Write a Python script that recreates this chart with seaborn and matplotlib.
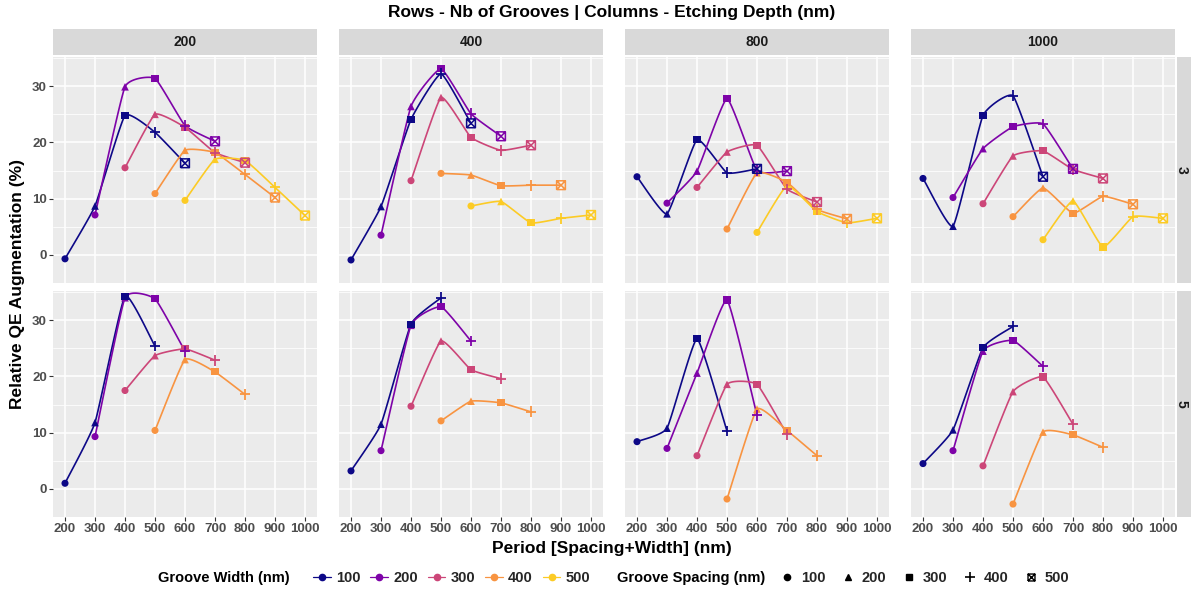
import numpy as np
import pandas as pd
import matplotlib
matplotlib.use("Agg")
import matplotlib.pyplot as plt
import seaborn as sns
from matplotlib.path import Path
from matplotlib.lines import Line2D

# ---------------- data ----------------
depths = [200, 400, 800, 1000]          # columns: etching depth (nm)
grooves = [3, 5]                         # rows: number of grooves
widths = [100, 200, 300, 400, 500]       # groove width (nm)
spacings = [100, 200, 300, 400, 500]     # groove spacing (nm)

# each row of a panel list = one groove width; values ordered by spacing 100..500
g3_d200 = [[-0.7, 8.7, 24.8, 21.8, 16.3],
           [7.1, 29.9, 31.4, 23.0, 20.2],
           [15.5, 25.0, 22.7, 18.2, 16.4],
           [10.9, 18.6, 18.2, 14.3, 10.2],
           [9.7, 17.0, 16.8, 12.0, 7.0]]
g3_d400 = [[-0.9, 8.6, 24.1, 32.2, 23.4],
           [3.5, 26.4, 33.1, 25.1, 21.1],
           [13.2, 28.0, 20.9, 18.6, 19.5],
           [14.5, 14.2, 12.3, 12.4, 12.4],
           [8.7, 9.5, 5.7, 6.5, 7.1]]
g3_d800 = [[13.9, 7.3, 20.5, 14.6, 15.3],
           [9.2, 14.9, 27.8, 15.0, 14.9],
           [12.0, 18.3, 19.5, 11.7, 9.4],
           [4.6, 14.6, 12.9, 8.1, 6.4],
           [4.0, 12.3, 7.7, 5.7, 6.5]]
g3_d1000 = [[13.6, 5.1, 24.8, 28.3, 13.9],
            [10.2, 18.9, 22.8, 23.3, 15.3],
            [9.1, 17.6, 18.5, 15.2, 13.6],
            [6.8, 11.9, 7.4, 10.4, 9.0],
            [2.7, 9.6, 1.4, 6.8, 6.5]]
g5_d200 = [[1.0, 11.8, 34.3, 25.4],
           [9.3, 34.0, 33.8, 24.5],
           [17.5, 23.7, 24.9, 22.9],
           [10.4, 23.0, 20.8, 16.8]]
g5_d400 = [[3.2, 11.5, 29.3, 34.0],
           [6.8, 29.1, 32.4, 26.3],
           [14.7, 26.3, 21.2, 19.6],
           [12.1, 15.6, 15.3, 13.7]]
g5_d800 = [[8.4, 10.8, 26.7, 10.3],
           [7.2, 20.6, 33.6, 13.1],
           [5.9, 18.6, 18.6, 9.7],
           [-1.8, 14.2, 10.4, 5.9]]
g5_d1000 = [[4.5, 10.5, 25.1, 28.9],
            [6.8, 24.5, 26.4, 21.8],
            [4.1, 17.3, 19.9, 11.5],
            [-2.7, 10.1, 9.6, 7.4]]

panels = {(3, 200): g3_d200, (3, 400): g3_d400, (3, 800): g3_d800, (3, 1000): g3_d1000,
          (5, 200): g5_d200, (5, 400): g5_d400, (5, 800): g5_d800, (5, 1000): g5_d1000}

rows = []
for (g, d), mat in panels.items():
    for wi, vals in enumerate(mat):
        for si, v in enumerate(vals):
            rows.append(dict(grooves=g, depth=d, width=widths[wi], spacing=spacings[si],
                             period=widths[wi] + spacings[si], qe=v))
df = pd.DataFrame(rows)

# ---------------- style ----------------
sns.set_theme(style="darkgrid")
FONT = ['Liberation Sans', 'DejaVu Sans']
plt.rcParams['font.family'] = FONT
plt.rcParams['font.weight'] = 'bold'

palette = dict(zip(widths, ["#0D0887", "#7E03A8", "#CC4678", "#F89441", "#FCCB25"]))

sqx = Path([(-1, -1), (1, -1), (1, 1), (-1, 1), (-1, -1), (-1, -1), (1, 1), (-1, 1), (1, -1)],
           [Path.MOVETO, Path.LINETO, Path.LINETO, Path.LINETO, Path.LINETO,
            Path.MOVETO, Path.LINETO, Path.MOVETO, Path.LINETO])
markers = {100: 'o', 200: '^', 300: 's', 400: '+', 500: sqx}
msize = {100: 26, 200: 30, 300: 26, 400: 60, 500: 40}


def smooth(xs, ys, k=0.2, n=24):
    """Cardinal spline through the data points (rendering only)."""
    P = np.column_stack([np.asarray(xs, float), np.asarray(ys, float)])
    if len(P) < 3:
        return P[:, 0], P[:, 1]
    Q = np.vstack([2 * P[0] - P[1], P, 2 * P[-1] - P[-2]])
    M = k * (Q[2:] - Q[:-2])
    t = np.linspace(0, 1, n, endpoint=False)[:, None]
    h00 = 2 * t ** 3 - 3 * t ** 2 + 1
    h10 = t ** 3 - 2 * t ** 2 + t
    h01 = -2 * t ** 3 + 3 * t ** 2
    h11 = t ** 3 - t ** 2
    out = []
    for i in range(len(P) - 1):
        out.append(h00 * P[i] + h10 * M[i] + h01 * P[i + 1] + h11 * M[i + 1])
    out.append(P[-1][None, :])
    A = np.vstack(out)
    return A[:, 0], A[:, 1]


W, H = 1191, 592
fig = plt.figure(figsize=(W / 100, H / 100), dpi=100)
fig.patch.set_facecolor('white')


def rect(l, t, w, h):
    return [l / W, 1 - (t + h) / H, w / W, h / H]


lefts = [53, 339, 625, 911]
tops = [57, 291]
pw, ph = 264, 226
tick_col = '#4D4D4D'

for r, g in enumerate(grooves):
    for c, d in enumerate(depths):
        ax = fig.add_axes(rect(lefts[c], tops[r], pw, ph))
        ax.set_facecolor('#EBEBEB')
        sub = df[(df.grooves == g) & (df.depth == d)]
        for w in widths:
            s = sub[sub.width == w].sort_values('period')
            if len(s) == 0:
                continue
            xs, ys = smooth(s.period.values, s.qe.values)
            ax.plot(xs, ys, color=palette[w], lw=1.2, zorder=3, solid_capstyle='round')
        for sp in spacings:
            s = sub[sub.spacing == sp]
            if len(s) == 0:
                continue
            if sp == 500:
                ax.scatter(s.period, s.qe, marker=sqx, s=msize[sp], facecolors='none',
                           edgecolors=[palette[w] for w in s.width], linewidths=1.1, zorder=4)
            elif sp == 400:
                sns.scatterplot(data=s, x='period', y='qe', hue='width', palette=palette,
                                marker='+', s=msize[sp], linewidth=1.3, legend=False, ax=ax, zorder=4)
            else:
                sns.scatterplot(data=s, x='period', y='qe', hue='width', palette=palette,
                                marker=markers[sp], s=msize[sp], linewidth=0, edgecolor='none',
                                legend=False, ax=ax, zorder=4)
        ax.set_xlim(160, 1040)
        ax.set_ylim(-4.8, 35.2)
        ax.set_xticks(range(200, 1001, 100))
        ax.set_yticks([0, 10, 20, 30])
        ax.set_yticks([-5, 5, 15, 25, 35], minor=True)
        ax.grid(which='major', color='white', lw=1.1)
        ax.grid(which='minor', color='white', lw=0.55)
        ax.set_axisbelow(True)
        for sp_ in ax.spines.values():
            sp_.set_visible(False)
        ax.set_xlabel('')
        ax.set_ylabel('')
        ax.tick_params(which='major', length=3, width=0.8, color='#333333',
                       labelsize=9.5, labelcolor=tick_col, pad=1.5)
        ax.tick_params(which='minor', length=0)
        ax.tick_params(axis='x', bottom=(r == 1), labelbottom=(r == 1))
        ax.tick_params(axis='y', left=(c == 0), labelleft=(c == 0))
        for lab in ax.get_xticklabels() + ax.get_yticklabels():
            lab.set_fontweight('bold')
        # column strip
        if r == 0:
            sax = fig.add_axes(rect(lefts[c], 29, pw, 26))
            sax.set_facecolor('#D9D9D9')
            sax.set_xticks([]); sax.set_yticks([])
            for sp_ in sax.spines.values():
                sp_.set_visible(False)
            sax.text(0.5, 0.5, str(d), ha='center', va='center', fontsize=10,
                     fontweight='bold', color='#1A1A1A', transform=sax.transAxes)
        if c == 3:
            rax = fig.add_axes(rect(1177, tops[r], 26, ph))
            rax.set_facecolor('#D9D9D9')
            rax.set_xticks([]); rax.set_yticks([])
            for sp_ in rax.spines.values():
                sp_.set_visible(False)
            rax.text(5 / 26, 0.5, str(g), ha='center', va='center', fontsize=10, rotation=-90,
                     fontweight='bold', color='#1A1A1A', transform=rax.transAxes)

fig.text(612 / W, 1 - 13 / H, 'Rows - Nb of Grooves | Columns - Etching Depth (nm)',
         ha='center', va='center', fontsize=12.5, fontweight='bold', color='black')
fig.text(612 / W, 1 - 549 / H, 'Period [Spacing+Width] (nm)', ha='center', va='center',
         fontsize=12.5, fontweight='bold', color='black')
fig.text(18 / W, 1 - 284 / H, 'Relative QE Augmentation (%)', ha='center', va='center',
         rotation=90, fontsize=12.5, fontweight='bold', color='black')

# legends
LEGSIZE = 10.5
fig.text(158 / W, 1 - 578 / H, 'Groove Width (nm)', ha='left', va='center', fontsize=LEGSIZE,
         fontweight='bold', color='black')
h_w = [Line2D([0], [0], color=palette[w], marker='o', lw=0.9, markersize=4.5) for w in widths]
leg1 = fig.legend(h_w, [str(w) for w in widths], loc='center left',
                  bbox_to_anchor=(300 / W, 1 - 578 / H), ncol=5, frameon=False,
                  handlelength=1.2, handletextpad=0.35, columnspacing=0.7,
                  prop=dict(family=FONT, weight='bold', size=LEGSIZE))
fig.text(617 / W, 1 - 578 / H, 'Groove Spacing (nm)', ha='left', va='center', fontsize=LEGSIZE,
         fontweight='bold', color='black')
mk_leg = {100: 'o', 200: '^', 300: 's', 400: '+', 500: sqx}
h_s = []
for sp in spacings:
    if sp == 500:
        h_s.append(Line2D([0], [0], color='black', marker=sqx, lw=0, markersize=5,
                          markerfacecolor='none', markeredgewidth=1))
    elif sp == 400:
        h_s.append(Line2D([0], [0], color='black', marker='+', lw=0, markersize=7, markeredgewidth=1.2))
    else:
        h_s.append(Line2D([0], [0], color='black', marker=mk_leg[sp], lw=0, markersize=4.5))
leg2 = fig.legend(h_s, [str(s) for s in spacings], loc='center left',
                  bbox_to_anchor=(765 / W, 1 - 578 / H), ncol=5, frameon=False,
                  handlelength=1.2, handletextpad=0.35, columnspacing=0.95,
                  prop=dict(family=FONT, weight='bold', size=LEGSIZE))

fig.savefig('out.png', dpi=100, facecolor='white')
